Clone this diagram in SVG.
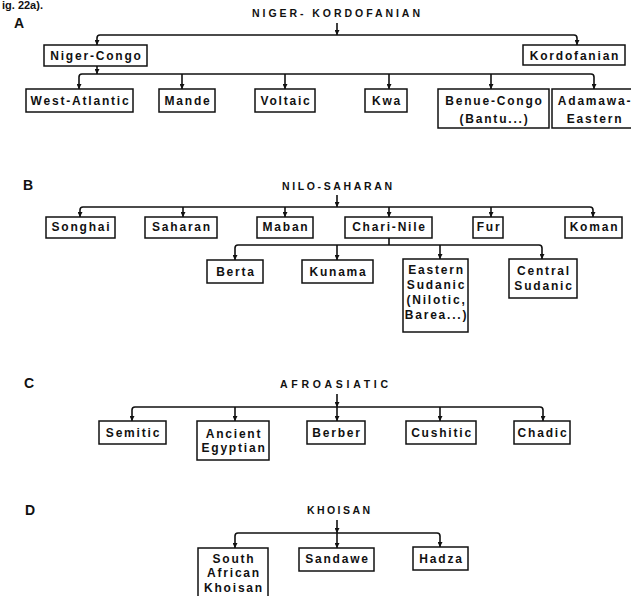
<svg xmlns="http://www.w3.org/2000/svg" width="631" height="596" viewBox="0 0 631 596">
<style>
.b{fill:#fff;stroke:#111;stroke-width:1.5}
.t{font-family:"Liberation Sans",Arial,sans-serif;font-size:12px;font-weight:bold;letter-spacing:1.8px;text-anchor:middle;fill:#111}
.h{font-family:"Liberation Sans",Arial,sans-serif;font-size:10.5px;font-weight:bold;text-anchor:middle;fill:#111}
.L{font-family:"Liberation Sans",Arial,sans-serif;font-size:14px;font-weight:bold;fill:#111}
.c{fill:none;stroke:#111;stroke-width:1.6}
</style>
<defs>
<marker id="ar" viewBox="0 0 6 6" refX="6" refY="3" markerWidth="6" markerHeight="5" markerUnits="userSpaceOnUse" orient="auto-start-reverse">
<path d="M0,0 L6,3 L0,6 z" fill="#111"/>
</marker>
</defs>
<rect width="631" height="596" fill="#fff"/>
<text class="L" x="2" y="9" style="font-size:11px">ig. 22a).</text>

<g id="labels">
<text class="L" x="14" y="28">A</text>
<text class="L" x="23" y="190">B</text>
<text class="L" x="24" y="388">C</text>
<text class="L" x="25" y="515">D</text>
</g>

<g id="connectors">
<!-- A -->
<path class="c" d="M337,23 V35" marker-end="url(#ar)"/>
<path class="c" d="M97,45 V38 Q97,35 100,35 H574 Q577,35 577,38 V45" marker-start="url(#ar)" marker-end="url(#ar)"/>
<path class="c" d="M97,66 V74" marker-end="url(#ar)"/>
<path class="c" d="M79,89 V77 Q79,74 82,74 H591 Q594,74 594,77 V89" marker-start="url(#ar)" marker-end="url(#ar)"/>
<path class="c" d="M182,74 V89" marker-end="url(#ar)"/>
<path class="c" d="M285,74 V89" marker-end="url(#ar)"/>
<path class="c" d="M389,74 V89" marker-end="url(#ar)"/>
<path class="c" d="M491,74 V89" marker-end="url(#ar)"/>
<!-- B -->
<path class="c" d="M337,195 V207" marker-end="url(#ar)"/>
<path class="c" d="M80,217 V210 Q80,207 83,207 H590 Q593,207 593,210 V217" marker-start="url(#ar)" marker-end="url(#ar)"/>
<path class="c" d="M183,207 V217" marker-end="url(#ar)"/>
<path class="c" d="M285,207 V217" marker-end="url(#ar)"/>
<path class="c" d="M389,207 V217" marker-end="url(#ar)"/>
<path class="c" d="M491,207 V217" marker-end="url(#ar)"/>
<path class="c" d="M389,238 V245"/>
<path class="c" d="M235,260 V248 Q235,245 238,245 H539 Q542,245 542,248 V259" marker-start="url(#ar)" marker-end="url(#ar)"/>
<path class="c" d="M337,245 V260" marker-end="url(#ar)"/>
<path class="c" d="M440,245 V259" marker-end="url(#ar)"/>
<!-- C -->
<path class="c" d="M337,394 V407" marker-end="url(#ar)"/>
<path class="c" d="M132,421 V410 Q132,407 135,407 H540 Q543,407 543,410 V421" marker-start="url(#ar)" marker-end="url(#ar)"/>
<path class="c" d="M235,407 V421" marker-end="url(#ar)"/>
<path class="c" d="M337,407 V421" marker-end="url(#ar)"/>
<path class="c" d="M440,407 V421" marker-end="url(#ar)"/>
<!-- D -->
<path class="c" d="M337,520 V533" marker-end="url(#ar)"/>
<path class="c" d="M235,548 V536 Q235,533 238,533 H437 Q440,533 440,536 V547" marker-start="url(#ar)" marker-end="url(#ar)"/>
<path class="c" d="M337,533 V548" marker-end="url(#ar)"/>
</g>

<g id="niger-kordofanian"><text class="h" x="336" y="17" textLength="168" lengthAdjust="spacing">NIGER- KORDOFANIAN</text></g>
<g id="niger-congo"><rect class="b" x="44" y="45" width="103" height="21"/><text class="t" x="96.5" y="60">Niger-Congo</text></g>
<g id="kordofanian"><rect class="b" x="523" y="45" width="102" height="20"/><text class="t" x="575" y="60">Kordofanian</text></g>
<g id="west-atlantic"><rect class="b" x="26" y="89" width="107" height="23"/><text class="t" x="80.5" y="105">West-Atlantic</text></g>
<g id="mande"><rect class="b" x="159" y="89" width="56" height="23"/><text class="t" x="188" y="105">Mande</text></g>
<g id="voltaic"><rect class="b" x="255" y="89" width="60" height="23"/><text class="t" x="286" y="105">Voltaic</text></g>
<g id="kwa"><rect class="b" x="365" y="89" width="42" height="23"/><text class="t" x="387" y="105">Kwa</text></g>
<g id="benue-congo"><rect class="b" x="438" y="89" width="111" height="39"/><text class="t" x="494.5" y="105">Benue-Congo</text><text class="t" x="494.5" y="123">(Bantu...)</text></g>
<g id="adamawa-eastern"><rect class="b" x="552" y="89" width="85" height="39"/><text class="t" x="595" y="105">Adamawa-</text><text class="t" x="595" y="123">Eastern</text></g>

<g id="nilo-saharan"><text class="h" x="337" y="190" textLength="110" lengthAdjust="spacing">NILO-SAHARAN</text></g>
<g id="songhai"><rect class="b" x="46" y="217" width="69" height="21"/><text class="t" x="81.5" y="231">Songhai</text></g>
<g id="saharan"><rect class="b" x="145" y="217" width="72" height="21"/><text class="t" x="182" y="231">Saharan</text></g>
<g id="maban"><rect class="b" x="257" y="217" width="56" height="21"/><text class="t" x="286" y="231">Maban</text></g>
<g id="chari-nile"><rect class="b" x="345" y="217" width="87" height="21"/><text class="t" x="389.5" y="231">Chari-Nile</text></g>
<g id="fur"><rect class="b" x="473" y="217" width="30" height="21"/><text class="t" x="489" y="231">Fur</text></g>
<g id="koman"><rect class="b" x="565" y="217" width="57" height="21"/><text class="t" x="594.5" y="231">Koman</text></g>
<g id="berta"><rect class="b" x="207" y="260" width="56" height="23"/><text class="t" x="236" y="276">Berta</text></g>
<g id="kunama"><rect class="b" x="302" y="260" width="71" height="23"/><text class="t" x="338.5" y="276">Kunama</text></g>
<g id="eastern-sudanic"><rect class="b" x="403" y="259" width="65" height="73"/><text class="t" x="436.5" y="274">Eastern</text><text class="t" x="436.5" y="289">Sudanic</text><text class="t" x="436.5" y="304">(Nilotic,</text><text class="t" x="436.5" y="319">Barea...)</text></g>
<g id="central-sudanic"><rect class="b" x="509" y="259" width="68" height="39"/><text class="t" x="544" y="275">Central</text><text class="t" x="544" y="290">Sudanic</text></g>

<g id="afroasiatic"><text class="h" x="334" y="388" textLength="108" lengthAdjust="spacing">AFROASIATIC</text></g>
<g id="semitic"><rect class="b" x="99" y="421" width="67" height="23"/><text class="t" x="133.5" y="437">Semitic</text></g>
<g id="ancient-egyptian"><rect class="b" x="197" y="421" width="72" height="39"/><text class="t" x="234" y="438">Ancient</text><text class="t" x="234" y="452">Egyptian</text></g>
<g id="berber"><rect class="b" x="307" y="421" width="58" height="23"/><text class="t" x="337" y="437">Berber</text></g>
<g id="cushitic"><rect class="b" x="406" y="421" width="70" height="23"/><text class="t" x="442" y="437">Cushitic</text></g>
<g id="chadic"><rect class="b" x="514" y="421" width="56" height="23"/><text class="t" x="543" y="437">Chadic</text></g>

<g id="khoisan"><text class="h" x="338.5" y="514" textLength="63" lengthAdjust="spacing">KHOISAN</text></g>
<g id="south-african-khoisan"><rect class="b" x="198" y="548" width="70" height="55"/><text class="t" x="234" y="563">South</text><text class="t" x="234" y="577">African</text><text class="t" x="234" y="592">Khoisan</text></g>
<g id="sandawe"><rect class="b" x="299" y="548" width="75" height="23"/><text class="t" x="337.5" y="563">Sandawe</text></g>
<g id="hadza"><rect class="b" x="413" y="547" width="55" height="23"/><text class="t" x="441.5" y="563">Hadza</text></g>
</svg>
